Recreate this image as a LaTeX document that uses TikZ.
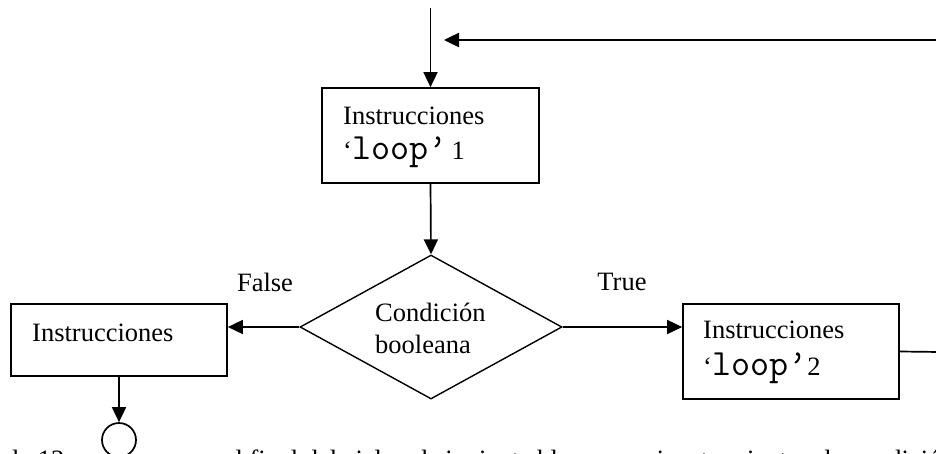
\documentclass[tikz,border=0pt]{standalone}
\usepackage{fontspec}
\setmainfont{Liberation Serif}
\usetikzlibrary{arrows.meta,shapes.geometric}
\begin{document}
\begin{tikzpicture}[x=1pt,y=-1pt,
  every node/.style={font=\fontsize{26.5}{35}\selectfont},
  boxnode/.style={draw=black, line width=1.7pt, rectangle, inner sep=0pt},
  decision/.style={draw=black, line width=1.4pt, diamond, inner sep=0pt, minimum width=262pt, minimum height=144pt},
  label/.style={inner sep=0pt, anchor=base west},
  conn/.style={line width=1.7pt, -{Triangle[length=15pt,width=14pt]}},
  plain/.style={line width=1.7pt}
]
\useasboundingbox (0,0) rectangle (936,453);
\clip (0,0) rectangle (936,453);
\fill[white] (0,0) rectangle (936,453);

% boxes
\node[boxnode, minimum width=217pt, minimum height=95pt] (b1) at (430.5,135.5) {};
\node[boxnode, minimum width=216pt, minimum height=72pt] (lb) at (119,340) {};
\node[boxnode, minimum width=216pt, minimum height=95pt] (rb) at (791,351.5) {};
\node[decision] (d) at (431,327) {};
\node[draw=black, line width=1.7pt, circle, minimum size=34pt, inner sep=0pt] (c) at (119,440) {};

% texts
\node[label] (t1a) at (343,124) {Instrucciones};
\node[label] (t1b) at (343,159) {‘{\ttfamily\fontsize{37}{35}\selectfont loop’}\,1};
\node[label] (t2a) at (703,338) {Instrucciones};
\node[label] (t2b) at (703,375) {‘{\ttfamily\fontsize{37}{35}\selectfont loop’}2};
\node[label] (t3) at (32,341) {Instrucciones};
\node[label] (dc1) at (375,321) {Condición};
\node[label] (dc2) at (375,353) {booleana};
\node[inner sep=0pt] (fl) at (265,282) {False};
\node[inner sep=0pt] (tr) at (622,282) {True};

% clipped running text at bottom
\node[label] (bt1) at (12,468) {la 12};
\node[label] (bt2) at (150,468) {que es el final del ciclo; el siguiente bloque se ejecuta mientras la condición sea válida};

% connectors
\coordinate (top) at (430.5,8);
\coordinate (fbR) at (940,40);
\coordinate (fbL) at (444,40);
\coordinate (rbR) at (940,352);

\draw[conn] (top) -- (b1.north);
\draw[conn, line width=2.5pt] (fbR) -- (fbL);
\draw[conn] (b1.south) -- (d.north);
\draw[conn] (d.west) -- (d.west -| lb.east);
\draw[conn] (d.east) -- (d.east -| rb.west);
\draw[plain] (rb.east) -- (rbR);
\draw[conn] (lb.south) -- (c.north);
\end{tikzpicture}
\end{document}
